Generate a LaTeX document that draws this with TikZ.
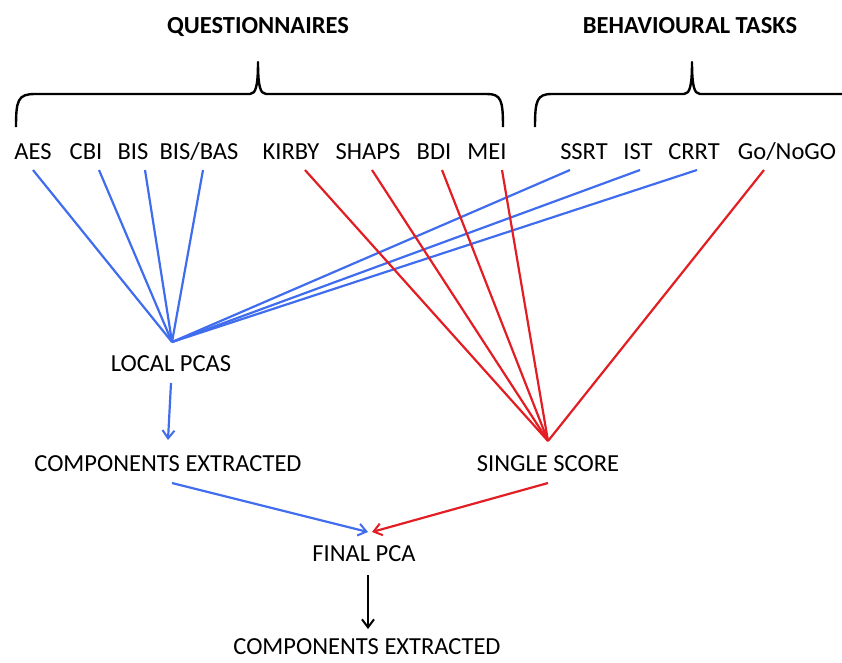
\documentclass[tikz,border=0pt]{standalone}
\usepackage{fontspec}
\setmainfont{Carlito}
\usetikzlibrary{arrows.meta}
\definecolor{lblue}{RGB}{64,108,238}
\definecolor{lred}{RGB}{226,30,36}
\begin{document}
\begin{tikzpicture}[x=1pt,y=-1pt,
  lbl/.style={font=\fontsize{24.5}{28}\selectfont, inner sep=0pt, text height=16pt, text depth=0pt, anchor=center},
  ttl/.style={lbl, font=\fontsize{24.5}{28}\selectfont\bfseries},
  bl/.style={draw=lblue, line width=2.2pt},
  rd/.style={draw=lred, line width=2.2pt},
  brace/.style={draw=black, line width=2.4pt, line join=round},
  tip/.style={-{Straight Barb[length=8pt,width=12pt,line width=2pt]}}]
\useasboundingbox (0,0) rectangle (842,662);
% titles
\node[ttl] (q) at (258,25) {QUESTIONNAIRES};
\node[ttl] (b) at (690,25) {BEHAVIOURAL TASKS};
% braces
\draw[brace] (16,127) .. controls (16,100) and (18,94) .. (35,94) -- (250,94)
  .. controls (256,94) and (258,85) .. (258,62) .. controls (258,85) and (260,94) .. (266,94)
  -- (487,94) .. controls (501,94) and (503,100) .. (503,127);
\draw[brace] (535,127) .. controls (535,100) and (537,94) .. (552,94) -- (684,94)
  .. controls (690,94) and (692,85) .. (692,62) .. controls (692,85) and (694,94) .. (700,94)
  -- (842,94);
% labels
\node[lbl] (aes) at (33,151) {AES};
\node[lbl] (cbi) at (86,151) {CBI};
\node[lbl] (bis) at (133,151) {BIS};
\node[lbl] (bisbas) at (199,151) {BIS/BAS};
\node[lbl] (kirby) at (291,151) {KIRBY};
\node[lbl] (shaps) at (368,151) {SHAPS};
\node[lbl] (bdi) at (434,151) {BDI};
\node[lbl] (mei) at (487,151) {MEI};
\node[lbl] (ssrt) at (584,151) {SSRT};
\node[lbl] (ist) at (638,151) {IST};
\node[lbl] (crrt) at (694,151) {CRRT};
\node[lbl] (gonogo) at (787,151) {Go/NoGO};
% apexes
\coordinate (la) at (172,342);
\coordinate (ra) at (548,441);
\node[lbl] (local) at (171,363) {LOCAL PCAS};
\node[lbl] (comp) at (168,463) {COMPONENTS EXTRACTED};
\node[lbl] (single) at (548,463) {SINGLE SCORE};
\node[lbl] (final) at (364,553) {FINAL PCA};
\node[lbl] (comp2) at (367,646) {COMPONENTS EXTRACTED};
% blue lines
\draw[bl] ([xshift=0pt,yshift=-19pt]aes.center) -- (la);
\draw[bl] ([xshift=13pt,yshift=-19pt]cbi.center) -- (la);
\draw[bl] ([xshift=12pt,yshift=-19pt]bis.center) -- (la);
\draw[bl] ([xshift=4pt,yshift=-19pt]bisbas.center) -- (la);
\draw[bl] ([xshift=-14pt,yshift=-19pt]ssrt.center) -- (la);
\draw[bl] ([xshift=2pt,yshift=-19pt]ist.center) -- (la);
\draw[bl] ([xshift=3pt,yshift=-19pt]crrt.center) -- (la);
% red lines
\draw[rd] ([xshift=14pt,yshift=-19pt]kirby.center) -- (ra);
\draw[rd] ([xshift=4pt,yshift=-19pt]shaps.center) -- (ra);
\draw[rd] ([xshift=8pt,yshift=-19pt]bdi.center) -- (ra);
\draw[rd] ([xshift=15pt,yshift=-19pt]mei.center) -- (ra);
\draw[rd] ([xshift=-23pt,yshift=-19pt]gonogo.center) -- (ra);
% arrows
\draw[bl,tip] ([yshift=-20pt]local.center) -- ([yshift=23pt]comp.center);
\draw[bl,tip] ([xshift=4pt,yshift=-20pt]comp.center) -- ([xshift=4pt,yshift=21pt]final.center);
\draw[rd,tip] ([yshift=-20pt]single.center) -- ([xshift=8pt,yshift=21pt]final.center);
\draw[line width=2pt,tip] ([xshift=4pt,yshift=-22pt]final.center) -- ([xshift=1pt,yshift=17pt]comp2.center);
\end{tikzpicture}
\end{document}
